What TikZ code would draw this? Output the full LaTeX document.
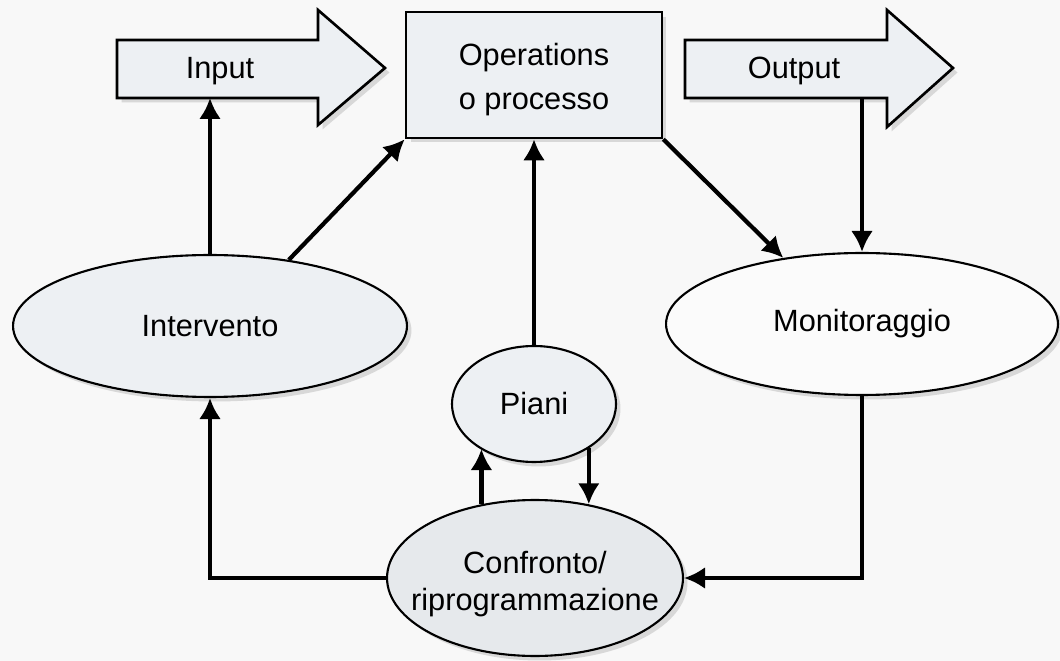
\documentclass[tikz,border=0pt]{standalone}
\usepackage{fontspec}
\setmainfont{Liberation Sans}
\usepackage{xcolor}
\usetikzlibrary{shapes, arrows.meta, shadows, positioning}
\definecolor{paper}{RGB}{248,248,248}
\definecolor{lightfill}{RGB}{237,240,243}
\definecolor{midfill}{RGB}{230,233,236}
\definecolor{whitefill}{RGB}{251,251,251}
\tikzset{
	every node/.style={font=\fontsize{17.5}{25}\selectfont},
	soft/.style={drop shadow={shadow xshift=0.09cm, shadow yshift=-0.09cm, fill=black!30, opacity=0.45}},
	oval/.style={ellipse, draw, line width=1.2pt, inner sep=0pt, soft},
	bigarrow/.style={draw, line width=1.5pt, fill=lightfill, line join=miter, soft},
	flow/.style={line width=2.4pt, -{Latex[length=0.42cm,width=0.44cm]}},
}

\begin{document}
\begin{tikzpicture}[x=0.02cm, y=-0.02cm]
				\fill[paper] (0,0) rectangle (1060,661);
				\useasboundingbox (0,0) rectangle (1060,661);
				
				\draw [bigarrow]
				(117,40)--(318,40)--(318,10)--(385,68)--(318,125)--(318,98)--(117,98)--cycle;
				\node (input) at (220,71) {Input};
				\coordinate (inbase) at (210,98);
				
				\draw [bigarrow]
				(685,40)--(887,40)--(887,10)--(953,68)--(887,127)--(887,98)--(685,98)--cycle;
				\node (output) at (794,71) {Output};
				\coordinate (outbase) at (862,98);
				
				\node [draw, line width=1.5pt, fill=lightfill, soft, minimum width=5.12cm, minimum height=2.52cm]
				(ops) at (534,75) {};
				\node [align=center] (opstext) at (534,80) {Operations\\o processo};
				
				\node [oval, fill=lightfill, minimum width=7.88cm, minimum height=2.84cm] (int) at (210,326) {Intervento};
				\node [oval, fill=whitefill, minimum width=7.84cm, minimum height=2.84cm] (mon) at (862,324) {Monitoraggio};
				\node [oval, fill=lightfill, minimum width=3.28cm, minimum height=2.32cm] (piani) at (534,404) {Piani};
				\node [oval, fill=midfill, minimum width=5.92cm, minimum height=3.12cm] (conf) at (535,578) {};
				\node [align=center, font=\fontsize{17.5}{21.5}\selectfont] (conftext) at (535,584) {Confronto/\\riprogrammazione};
				
				\draw[flow] (int.north)--(inbase);
				\draw[flow] (int.40)--(ops.south west);
				\draw[flow] (piani.north)--(ops.south);
				\draw[flow] (ops.south east)--(mon.140);
				\draw[flow] (outbase)--(mon.north);
				\draw[flow] (mon.south)--(mon.south |- conf.east)--(conf.east);
				\draw[flow] (conf.west)--(conf.west -| int.south)--(int.south);
				\draw[flow] (conf.126)--(conf.126 |- piani.220);
				\draw[flow] (piani.321)--(piani.321 |- conf.54);
			\end{tikzpicture}
\end{document}
